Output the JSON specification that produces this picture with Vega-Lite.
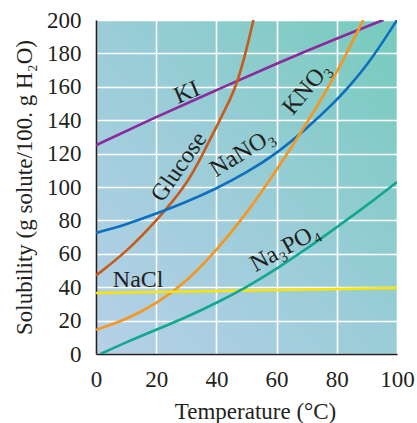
{
  "$schema": "https://vega.github.io/schema/vega-lite/v6.json",
  "width": 301,
  "height": 334,
  "autosize": "none",
  "padding": {"left": 96, "top": 20, "right": 20, "bottom": 69},
  "background": "white",
  "view": {
    "stroke": null,
    "fill": {"gradient": "linear", "x1": 0, "y1": 1, "x2": 1, "y2": 0,
      "stops": [{"offset": 0, "color": "#b6d0e8"}, {"offset": 0.5, "color": "#9acdd8"}, {"offset": 1, "color": "#76cbbc"}]}
  },
  "config": {
    "font": "Liberation Serif",
    "axis": {
      "labelFont": "Liberation Serif", "titleFont": "Liberation Serif",
      "labelFontSize": 23, "titleFontSize": 23, "labelColor": "#231f20", "titleColor": "#231f20",
      "titleFontWeight": "normal", "ticks": false,
      "grid": true, "gridColor": "white", "gridWidth": 1.6, "gridOpacity": 1,
      "domainColor": "#231f20", "domainWidth": 1.6
    }
  },
  "datasets": {
    "curves": [
      {"series": "KI", "t": 0, "s": 125}, {"series": "KI", "t": 20, "s": 142}, {"series": "KI", "t": 40, "s": 158},
      {"series": "KI", "t": 60, "s": 174}, {"series": "KI", "t": 80, "s": 189}, {"series": "KI", "t": 95.5, "s": 200},
      {"series": "Glucose", "t": 0, "s": 47}, {"series": "Glucose", "t": 10, "s": 61}, {"series": "Glucose", "t": 20, "s": 79.5},
      {"series": "Glucose", "t": 30, "s": 101}, {"series": "Glucose", "t": 35, "s": 118}, {"series": "Glucose", "t": 40, "s": 136},
      {"series": "Glucose", "t": 45, "s": 154}, {"series": "Glucose", "t": 47, "s": 163}, {"series": "Glucose", "t": 50, "s": 182},
      {"series": "Glucose", "t": 52.3, "s": 200},
      {"series": "NaNO3", "t": 0, "s": 72.5}, {"series": "NaNO3", "t": 10, "s": 77.5}, {"series": "NaNO3", "t": 20, "s": 84},
      {"series": "NaNO3", "t": 30, "s": 91}, {"series": "NaNO3", "t": 40, "s": 99}, {"series": "NaNO3", "t": 50, "s": 108.5},
      {"series": "NaNO3", "t": 60, "s": 120}, {"series": "NaNO3", "t": 70, "s": 135}, {"series": "NaNO3", "t": 80, "s": 152},
      {"series": "NaNO3", "t": 85, "s": 162}, {"series": "NaNO3", "t": 90, "s": 173}, {"series": "NaNO3", "t": 95, "s": 186},
      {"series": "NaNO3", "t": 100, "s": 200},
      {"series": "KNO3", "t": 0, "s": 14.5}, {"series": "KNO3", "t": 10, "s": 20.5}, {"series": "KNO3", "t": 20, "s": 30},
      {"series": "KNO3", "t": 30, "s": 43}, {"series": "KNO3", "t": 40, "s": 62}, {"series": "KNO3", "t": 50, "s": 84},
      {"series": "KNO3", "t": 60, "s": 110}, {"series": "KNO3", "t": 70, "s": 138}, {"series": "KNO3", "t": 80, "s": 168},
      {"series": "KNO3", "t": 88.8, "s": 200},
      {"series": "NaCl", "t": 0, "s": 36.5}, {"series": "NaCl", "t": 100, "s": 39.5},
      {"series": "Na3PO4", "t": 1.5, "s": 0}, {"series": "Na3PO4", "t": 10, "s": 7}, {"series": "Na3PO4", "t": 20, "s": 14.5},
      {"series": "Na3PO4", "t": 30, "s": 22}, {"series": "Na3PO4", "t": 40, "s": 30.5}, {"series": "Na3PO4", "t": 50, "s": 40},
      {"series": "Na3PO4", "t": 60, "s": 51}, {"series": "Na3PO4", "t": 70, "s": 63}, {"series": "Na3PO4", "t": 80, "s": 76},
      {"series": "Na3PO4", "t": 90, "s": 89}, {"series": "Na3PO4", "t": 100, "s": 103}
    ]
  },
  "layer": [
    {
      "data": {"name": "curves"},
      "mark": {"type": "line", "interpolate": "basis", "strokeWidth": 2.6, "clip": true},
      "encoding": {
        "x": {"field": "t", "type": "quantitative", "scale": {"domain": [0, 100], "nice": false},
          "axis": {"tickCount": 5, "title": "Temperature (°C)", "labelPadding": 14, "titlePadding": 9, "titleX": 159, "labelOverlap": false, "labelFlush": false}},
        "y": {"field": "s", "type": "quantitative", "scale": {"domain": [0, 200], "nice": false},
          "axis": {"tickCount": 10, "title": "Solubility (g solute/100. g H₂O)", "labelPadding": 15, "titlePadding": 10, "labelOverlap": false, "labelFlush": false, "labelBound": false, "labelLineHeight": 14}},
        "color": {"field": "series", "type": "nominal", "legend": null,
          "scale": {"domain": ["KI", "Glucose", "NaNO3", "KNO3", "NaCl", "Na3PO4"],
            "range": ["#8b2a9c", "#c95a1a", "#0c6fc0", "#f7961f", "#ffe400", "#12a890"]}},
        "detail": {"field": "series"}
      }
    },
    {
      "data": {"values": [{"label": "KI", "t": 30.2, "s": 156.5}]},
      "mark": {"type": "text", "angle": -23, "fontSize": 24, "font": "Liberation Serif", "color": "#231f20", "align": "center", "baseline": "middle"},
      "encoding": {"x": {"field": "t", "type": "quantitative"}, "y": {"field": "s", "type": "quantitative"}, "text": {"field": "label"}}
    },
    {
      "data": {"values": [{"label": "Glucose", "t": 27.6, "s": 112}]},
      "mark": {"type": "text", "angle": -55, "fontSize": 24, "font": "Liberation Serif", "color": "#231f20", "align": "center", "baseline": "middle"},
      "encoding": {"x": {"field": "t", "type": "quantitative"}, "y": {"field": "s", "type": "quantitative"}, "text": {"field": "label"}}
    },
    {
      "data": {"values": [{"label": "NaNO₃", "t": 48.6, "s": 120.5}]},
      "mark": {"type": "text", "angle": -32, "fontSize": 24, "font": "Liberation Serif", "color": "#231f20", "align": "center", "baseline": "middle"},
      "encoding": {"x": {"field": "t", "type": "quantitative"}, "y": {"field": "s", "type": "quantitative"}, "text": {"field": "label"}}
    },
    {
      "data": {"values": [{"label": "KNO₃", "t": 70, "s": 159}]},
      "mark": {"type": "text", "angle": -50, "fontSize": 24, "font": "Liberation Serif", "color": "#231f20", "align": "center", "baseline": "middle"},
      "encoding": {"x": {"field": "t", "type": "quantitative"}, "y": {"field": "s", "type": "quantitative"}, "text": {"field": "label"}}
    },
    {
      "data": {"values": [{"label": "NaCl", "t": 14, "s": 44.3}]},
      "mark": {"type": "text", "angle": 0, "fontSize": 24, "font": "Liberation Serif", "color": "#231f20", "align": "center", "baseline": "middle"},
      "encoding": {"x": {"field": "t", "type": "quantitative"}, "y": {"field": "s", "type": "quantitative"}, "text": {"field": "label"}}
    },
    {
      "data": {"values": [{"label": "Na₃PO₄", "t": 62.8, "s": 63.5}]},
      "mark": {"type": "text", "angle": -29, "fontSize": 24, "font": "Liberation Serif", "color": "#231f20", "align": "center", "baseline": "middle"},
      "encoding": {"x": {"field": "t", "type": "quantitative"}, "y": {"field": "s", "type": "quantitative"}, "text": {"field": "label"}}
    }
  ]
}
